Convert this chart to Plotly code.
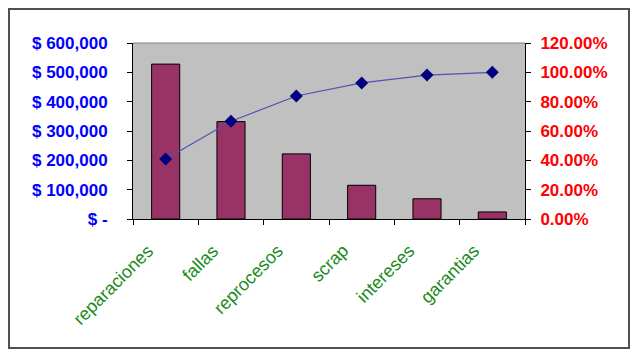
import plotly.graph_objects as go
import numpy as np

categories = ["reparaciones", "fallas", "reprocesos", "scrap", "intereses", "garantias"]
costos = [528000, 332000, 222000, 115000, 69000, 24000]
cum_pct = list(np.cumsum(costos) / np.sum(costos))

left_tickvals = [0, 100000, 200000, 300000, 400000, 500000, 600000]
left_ticktext = ["$ -", "$ 100,000", "$ 200,000", "$ 300,000", "$ 400,000", "$ 500,000", "$ 600,000"]
right_tickvals = [0, 0.2, 0.4, 0.6, 0.8, 1.0, 1.2]
right_ticktext = ["0.00%", "20.00%", "40.00%", "60.00%", "80.00%", "100.00%", "120.00%"]

W, H = 640, 358
ML, MR, MT, MB = 133, 115, 43, 139
PW, PH = W - ML - MR, H - MT - MB

def px2paper_x(px):
    return (px - ML) / PW

def px2paper_y(py):
    return (H - MB - py) / PH

font_family = "Liberation Sans, Arial, sans-serif"

fig = go.Figure()
fig.add_trace(go.Bar(
    x=categories, y=costos, yaxis="y",
    marker=dict(color="#993366", line=dict(color="#000000", width=1)),
    width=0.43, showlegend=False,
))
fig.add_trace(go.Scatter(
    x=categories, y=cum_pct, yaxis="y2", mode="lines+markers",
    line=dict(color="#5050b8", width=1.2),
    marker=dict(symbol="diamond", color="#000080", size=10),
    showlegend=False,
))

annotations = [
    dict(x=c, xref="x", y=0, yref="paper", text=c, showarrow=False,
         textangle=-45, xanchor="right", yanchor="top", xshift=-6, yshift=-19,
         font=dict(family=font_family, size=18, color="#1a8a1a"))
    for c in categories
]

fig.update_layout(
    width=W, height=H,
    margin=dict(l=ML, r=MR, t=MT, b=MB, pad=0),
    paper_bgcolor="#ffffff",
    plot_bgcolor="#c0c0c0",
    font=dict(family=font_family),
    xaxis=dict(
        type="category", tickson="boundaries", ticks="outside", ticklen=5,
        tickcolor="#000000", showline=True, linecolor="#000000", linewidth=1,
        showgrid=False, showticklabels=False,
        range=[-0.5, 5.5],
    ),
    yaxis=dict(
        range=[0, 600000], tickvals=left_tickvals, ticktext=left_ticktext,
        ticks="outside", ticklen=5, tickcolor="#000000", ticklabelstandoff=16,
        showline=True, linecolor="#000000", linewidth=1, showgrid=False, zeroline=False,
        tickfont=dict(family=font_family, size=17, color="#0000ff", weight="bold"),
    ),
    yaxis2=dict(
        range=[0, 1.2], tickvals=right_tickvals, ticktext=right_ticktext,
        overlaying="y", side="right",
        ticks="outside", ticklen=5, tickcolor="#000000", ticklabelstandoff=6,
        showline=True, linecolor="#000000", linewidth=1, showgrid=False, zeroline=False,
        tickfont=dict(family=font_family, size=17, color="#ff0000", weight="bold"),
    ),
    annotations=annotations,
    shapes=[
        dict(type="line", xref="paper", yref="paper", x0=0, x1=1, y0=1, y1=1,
             line=dict(color="#808080", width=1)),
        dict(type="rect", xref="paper", yref="paper",
             x0=px2paper_x(9), x1=px2paper_x(629), y0=px2paper_y(348), y1=px2paper_y(9),
             line=dict(color="#505050", width=2), layer="below"),
    ],
)

fig.write_html("out.html")
